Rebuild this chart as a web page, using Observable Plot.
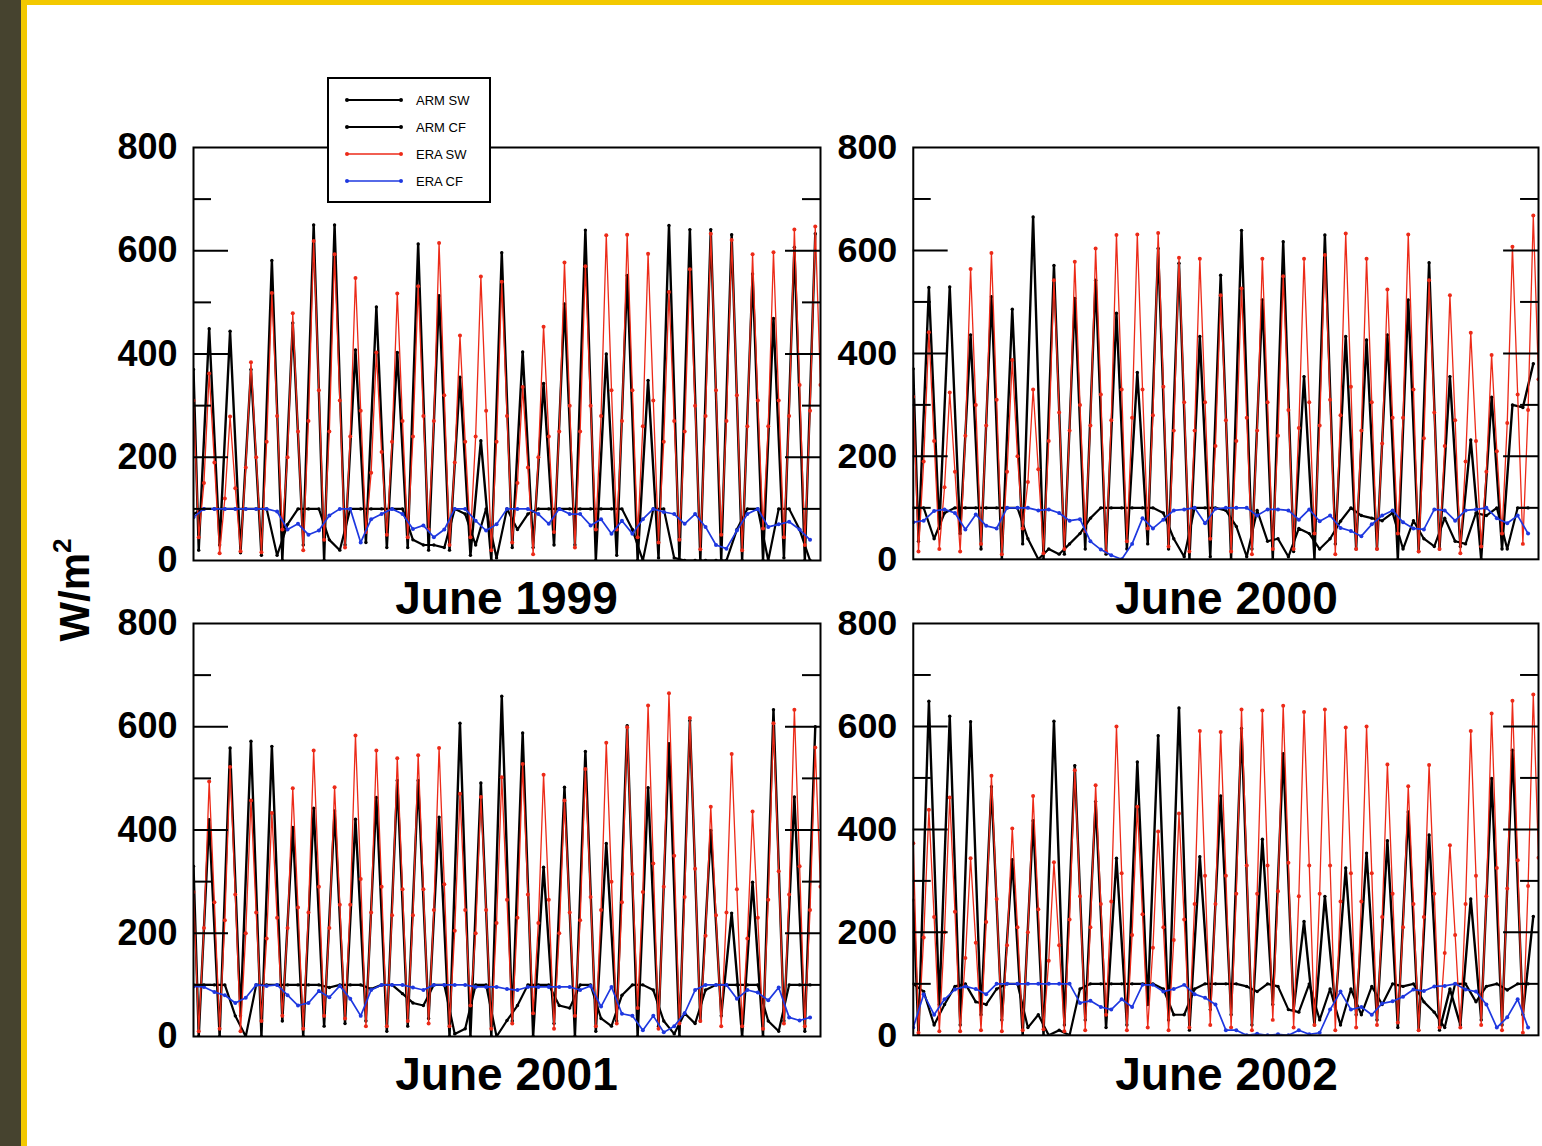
<!DOCTYPE html>
<html><head><meta charset="utf-8">
<script src="https://cdn.jsdelivr.net/npm/d3@7/dist/d3.min.js"></script>
<script src="https://cdn.jsdelivr.net/npm/@observablehq/plot@0.6/dist/plot.umd.min.js"></script>
<style>
body{margin:0;background:#fff;}
#page{position:relative;width:1542px;height:1146px;background:#fff;overflow:hidden;font-family:"Liberation Sans",Arial,Helvetica,sans-serif;}
.strip{position:absolute;left:0;top:0;width:21px;height:1146px;background:#46432f;}
.vbar{position:absolute;left:21px;top:0;width:6px;height:1146px;background:#f3c900;}
.hbar{position:absolute;left:21px;top:0;width:1521px;height:5px;background:#f3c900;}
.panel{position:absolute;}
.title{position:absolute;font-weight:bold;font-size:46px;line-height:46px;transform:translateX(-50%);white-space:nowrap;color:#000;}
.ylab{position:absolute;left:75px;top:590px;font-weight:bold;font-size:42px;line-height:42px;white-space:nowrap;transform:translate(-50%,-50%) rotate(-90deg);}
.ylab sup{font-size:26px;vertical-align:18px;line-height:0;}
#legend{position:absolute;left:327px;top:77px;width:160px;height:122px;border:2px solid #000;background:#fff;}
</style></head>
<body><div id="page">
<div class="strip"></div><div class="vbar"></div><div class="hbar"></div>
<div class="ylab">W/m<sup>2</sup></div>
</div>
<script>
// ---- tick values ----
const majorTicks = [0, 200, 400, 600, 800];
const innerMajor = [200, 400, 600];
const minorTicks = [100, 300, 500, 700];

// ---- series (days of June; SW lows ~06 UTC, rise ~12 UTC, peaks ~18 UTC, fall ~00 UTC; CF every 12 h) ----
const sw1999Start = {arm: 370, era: 310};
const armSW1999Peak = [449,444,370,581,460,650,650,408,491,403,613,513,355,232,596,404,343,497,640,400,552,349,649,641,641,631,555,469,607,633];
const armSW1999Low  = [20,30,15,10,0,30,0,30,35,25,25,20,20,10,0,25,25,30,30,0,10,0,5,0,0,0,0,0,5,0];
const eraSW1999Peak = [362,279,384,518,479,619,593,547,403,517,531,615,436,550,540,336,453,577,570,630,631,594,520,564,633,621,593,597,641,647];
const eraSW1999Low  = [45,14,18,16,60,20,40,25,55,50,45,60,30,45,20,35,12,55,25,60,60,45,35,40,22,50,20,62,45,30];
const eraSW1999Rise = [150,120,180,230,200,270,250,240,170,230,240,270,190,240,230,150,200,250,250,280,270,260,230,250,280,270,260,260,280,290];
const eraSW1999Fall = [190,140,200,280,250,330,310,290,210,270,280,320,230,290,280,180,240,300,300,330,330,310,270,300,330,320,310,310,340,340];
const armCF1999 = [90,100,100,100,100,100,100,100,10,70,100,100,100,40,20,100,100,100,100,100,100,40,30,30,25,100,90,30,100,5,100,60,90,100,100,100,100,100,100,100,100,100,60,0,100,100,5,0,0,0,0,0,60,100,100,0,100,100,60,0];
const eraCF1999 = [84,100,100,100,100,100,100,100,95,60,71,50,58,87,100,100,35,80,90,100,90,61,68,45,60,100,100,77,58,70,100,100,100,90,71,100,90,90,68,80,52,77,52,80,100,94,90,71,90,65,30,23,58,90,100,65,70,75,60,40];

const sw2000Start = {arm: 370, era: 316};
const armSW2000Peak = [528,529,436,510,486,665,571,507,542,478,363,604,575,433,552,639,504,617,355,630,433,426,436,504,576,355,232,315,300,380];
const armSW2000Low  = [35,60,50,20,0,30,0,10,20,10,20,30,20,0,5,0,20,0,15,0,30,20,20,0,15,20,25,0,20,295];
const eraSW2000Peak = [441,324,564,595,387,330,542,578,604,630,631,634,586,584,513,526,584,550,584,591,633,584,524,631,542,513,440,397,607,668];
const eraSW2000Low  = [15,20,15,30,10,60,12,20,55,15,35,60,25,15,40,15,10,20,20,50,10,20,20,50,15,20,12,25,50,30];
const eraSW2000Rise = [190,140,240,260,170,150,230,250,260,270,275,280,250,250,220,230,250,240,255,260,280,250,225,275,235,220,190,170,265,290];
const eraSW2000Fall = [230,170,300,310,200,175,285,300,320,330,330,335,305,305,270,275,305,290,305,310,335,305,275,330,285,270,230,210,320,350];
const armCF2000 = [100,100,40,90,100,100,100,100,100,100,100,40,0,20,10,30,50,80,100,100,100,100,100,100,90,40,5,100,100,100,95,64,5,95,35,40,5,60,50,20,40,74,100,85,80,75,90,20,75,40,25,80,35,30,90,85,100,20,100,100];
const eraCF2000 = [72,75,94,97,90,58,87,65,60,100,100,100,95,97,90,75,78,35,19,8,0,30,80,60,77,95,97,100,70,98,100,100,100,85,97,97,95,77,97,74,85,61,55,45,68,85,95,72,60,58,97,95,75,95,97,100,80,70,85,50];

const sw2001Start = {arm: 330, era: 280};
const armSW2001Peak = [420,559,572,562,405,442,437,421,463,496,496,425,607,491,659,588,328,483,552,374,602,482,567,612,399,239,299,633,464,600];
const armSW2001Low  = [0,0,40,0,30,0,20,25,30,10,20,35,0,0,0,30,0,25,0,10,30,0,20,0,30,40,0,0,30,10];
const eraSW2001Peak = [494,522,457,433,481,554,483,583,554,539,545,559,470,464,502,528,507,457,518,569,599,641,665,617,445,547,436,607,633,560];
const eraSW2001Low  = [10,15,10,30,40,15,40,35,20,20,30,25,20,60,15,25,45,15,40,20,25,55,15,25,30,20,20,15,25,20];
const eraSW2001Rise = [210,225,200,190,210,240,210,255,240,235,235,245,205,200,220,230,220,200,225,245,260,280,290,270,195,240,190,265,275,245];
const eraSW2001Fall = [260,275,240,230,250,290,255,305,290,285,285,295,245,245,265,275,265,240,270,300,315,335,350,325,235,285,230,320,330,290];
const armCF2001 = [100,100,100,100,40,0,100,100,100,100,100,100,100,95,100,100,100,92,100,100,83,65,60,100,100,5,15,100,100,0,31,60,100,100,100,60,55,100,100,35,20,80,100,100,90,30,5,45,25,90,100,100,100,100,100,30,10,100,100,100];
const eraCF2001 = [97,96,86,80,65,75,100,98,100,80,60,65,88,76,98,73,40,90,100,100,100,95,90,100,100,100,100,96,96,96,92,90,96,96,96,96,96,90,98,58,96,44,40,12,40,8,20,45,90,100,100,100,73,90,85,70,95,37,31,37];

const sw2002Start = {arm: 263, era: 373};
const armSW2002Peak = [649,620,609,483,341,417,610,524,454,344,531,582,636,347,465,596,381,547,221,270,325,354,378,434,389,90,265,499,554,231];
const armSW2002Low  = [0,60,20,40,30,0,0,20,30,15,20,60,30,10,50,40,20,60,50,20,55,40,30,15,10,10,20,30,20,40];
const eraSW2002Peak = [438,462,344,504,402,465,336,515,486,600,444,396,431,591,589,633,631,640,628,633,598,600,526,484,525,369,591,625,650,662];
const eraSW2002Low  = [5,8,8,10,8,10,12,8,10,40,10,15,10,15,20,15,10,30,15,20,10,15,20,25,10,15,15,20,10,5];
const eraSW2002Rise = [190,200,150,220,175,200,145,225,210,260,195,170,185,255,255,275,275,280,270,275,260,260,230,210,230,160,255,270,285,290];
const eraSW2002Fall = [230,240,180,265,210,245,175,270,255,315,235,210,225,310,310,330,330,335,330,330,315,315,275,255,275,195,310,325,340,345];
const armCF2002 = [100,85,20,60,95,100,65,60,90,100,100,15,40,0,10,0,90,100,100,100,100,100,100,100,90,40,40,90,100,100,100,100,95,85,100,95,50,45,100,30,90,20,90,40,95,60,100,95,100,65,45,15,100,100,65,95,100,88,100,100];
const eraCF2002 = [15,80,40,70,89,95,90,80,100,100,100,100,100,100,100,100,63,67,55,50,70,55,98,98,85,90,98,80,73,60,10,10,0,3,0,2,0,10,2,5,50,85,50,55,40,62,66,75,89,86,95,96,100,89,85,60,15,35,70,15];

const titles = ["June 1999", "June 2000", "June 2001", "June 2002"];
const legendLabels = ["ARM SW", "ARM CF", "ERA SW", "ERA CF"];
const RED = "#ec2a18", BLUE = "#1e38e0", BLACK = "#000";
const legendColors = [BLACK, BLACK, RED, BLUE];

function armRows(start, lows, peaks) {
  const rows = [{t: 0, v: start}];
  lows.forEach((v, d) => { rows.push({t: d + 0.25, v}); rows.push({t: d + 0.75, v: peaks[d]}); });
  return rows;
}
function eraRows(start, lows, rises, peaks, falls) {
  const rows = [{t: 0, v: start}];
  lows.forEach((v, d) => {
    rows.push({t: d + 0.25, v});
    rows.push({t: d + 0.5, v: rises[d]});
    rows.push({t: d + 0.75, v: peaks[d]});
    rows.push({t: d + 1, v: falls[d]});
  });
  return rows;
}
function cfRows(vals) { return vals.map((v, i) => ({t: i * 0.5, v})); }

const panels = [
  {title: titles[0], start: sw1999Start, armP: armSW1999Peak, armL: armSW1999Low, eraP: eraSW1999Peak, eraL: eraSW1999Low, eraR: eraSW1999Rise, eraF: eraSW1999Fall, armCF: armCF1999, eraCF: eraCF1999, left: 193, top: 147},
  {title: titles[1], start: sw2000Start, armP: armSW2000Peak, armL: armSW2000Low, eraP: eraSW2000Peak, eraL: eraSW2000Low, eraR: eraSW2000Rise, eraF: eraSW2000Fall, armCF: armCF2000, eraCF: eraCF2000, left: 913, top: 147},
  {title: titles[2], start: sw2001Start, armP: armSW2001Peak, armL: armSW2001Low, eraP: eraSW2001Peak, eraL: eraSW2001Low, eraR: eraSW2001Rise, eraF: eraSW2001Fall, armCF: armCF2001, eraCF: eraCF2001, left: 193, top: 623},
  {title: titles[3], start: sw2002Start, armP: armSW2002Peak, armL: armSW2002Low, eraP: eraSW2002Peak, eraL: eraSW2002Low, eraR: eraSW2002Rise, eraF: eraSW2002Fall, armCF: armCF2002, eraCF: eraCF2002, left: 913, top: 623}
];

const page = document.getElementById("page");
const PW = 627, PH = 413, ML = 82, MR = 4, MT = 4, MB = 4;

panels.forEach(p => {
  const armSW = armRows(p.start.arm, p.armL, p.armP);
  const eraSW = eraRows(p.start.era, p.eraL, p.eraR, p.eraP, p.eraF);
  const armCF = cfRows(p.armCF);
  const eraCF = cfRows(p.eraCF);
  const chart = Plot.plot({
    width: PW + ML + MR, height: PH + MT + MB,
    marginLeft: ML, marginRight: MR, marginTop: MT, marginBottom: MB,
    style: {fontFamily: '"Liberation Sans", Arial, sans-serif', fontSize: "36px", fontWeight: "bold", background: "transparent", overflow: "visible"},
    x: {domain: [0, 30], axis: null},
    y: {domain: [0, 800], axis: null},
    marks: [
      Plot.line(armCF, {x: "t", y: "v", stroke: BLACK, strokeWidth: 2.2, clip: true}),
      Plot.dot(armCF, {x: "t", y: "v", r: 1.7, fill: BLACK, clip: true}),
      Plot.line(armSW, {x: "t", y: "v", stroke: BLACK, strokeWidth: 2.4, clip: true}),
      Plot.dot(armSW, {x: "t", y: "v", r: 1.7, fill: BLACK, clip: true}),
      Plot.line(eraSW, {x: "t", y: "v", stroke: RED, strokeWidth: 1.3, clip: true}),
      Plot.dot(eraSW, {x: "t", y: "v", r: 2, fill: RED, clip: true}),
      Plot.line(eraCF, {x: "t", y: "v", stroke: BLUE, strokeWidth: 1.7, clip: true}),
      Plot.dot(eraCF, {x: "t", y: "v", r: 2, fill: BLUE, clip: true}),
      Plot.tickY(innerMajor, {stroke: BLACK, strokeWidth: 2, insetRight: PW - 35}),
      Plot.tickY(innerMajor, {stroke: BLACK, strokeWidth: 2, insetLeft: PW - 35}),
      Plot.tickY(minorTicks, {stroke: BLACK, strokeWidth: 2, insetRight: PW - 18}),
      Plot.tickY(minorTicks, {stroke: BLACK, strokeWidth: 2, insetLeft: PW - 18}),
      Plot.frame({stroke: BLACK, strokeWidth: 2}),
      Plot.axisY({ticks: majorTicks, tickSize: 0, tickPadding: 16, label: null, fontSize: 36, fontWeight: "bold"})
    ]
  });
  const wrap = document.createElement("div");
  wrap.className = "panel";
  wrap.style.left = (p.left - ML) + "px";
  wrap.style.top = (p.top - MT) + "px";
  wrap.appendChild(chart);
  page.appendChild(wrap);
  const t = document.createElement("div");
  t.className = "title";
  t.textContent = p.title;
  t.style.left = (p.left + PW / 2) + "px";
  t.style.top = (p.top + PH + 15) + "px";
  page.appendChild(t);
});

// legend
const lg = document.createElement("div");
lg.id = "legend";
const svg = d3.create("svg").attr("width", 160).attr("height", 122);
legendLabels.forEach((lab, i) => {
  const y = 21 + i * 27;
  svg.append("line").attr("x1", 18).attr("x2", 72).attr("y1", y).attr("y2", y).attr("stroke", legendColors[i]).attr("stroke-width", i < 2 ? 2 : 1.6);
  svg.append("circle").attr("cx", 18).attr("cy", y).attr("r", 2).attr("fill", legendColors[i]);
  svg.append("circle").attr("cx", 72).attr("cy", y).attr("r", 2).attr("fill", legendColors[i]);
  svg.append("text").attr("x", 87).attr("y", y + 4.5).attr("font-size", 13).attr("font-family", '"Liberation Sans", Arial, sans-serif').text(lab);
});
lg.appendChild(svg.node());
page.appendChild(lg);
</script>
</body></html>
